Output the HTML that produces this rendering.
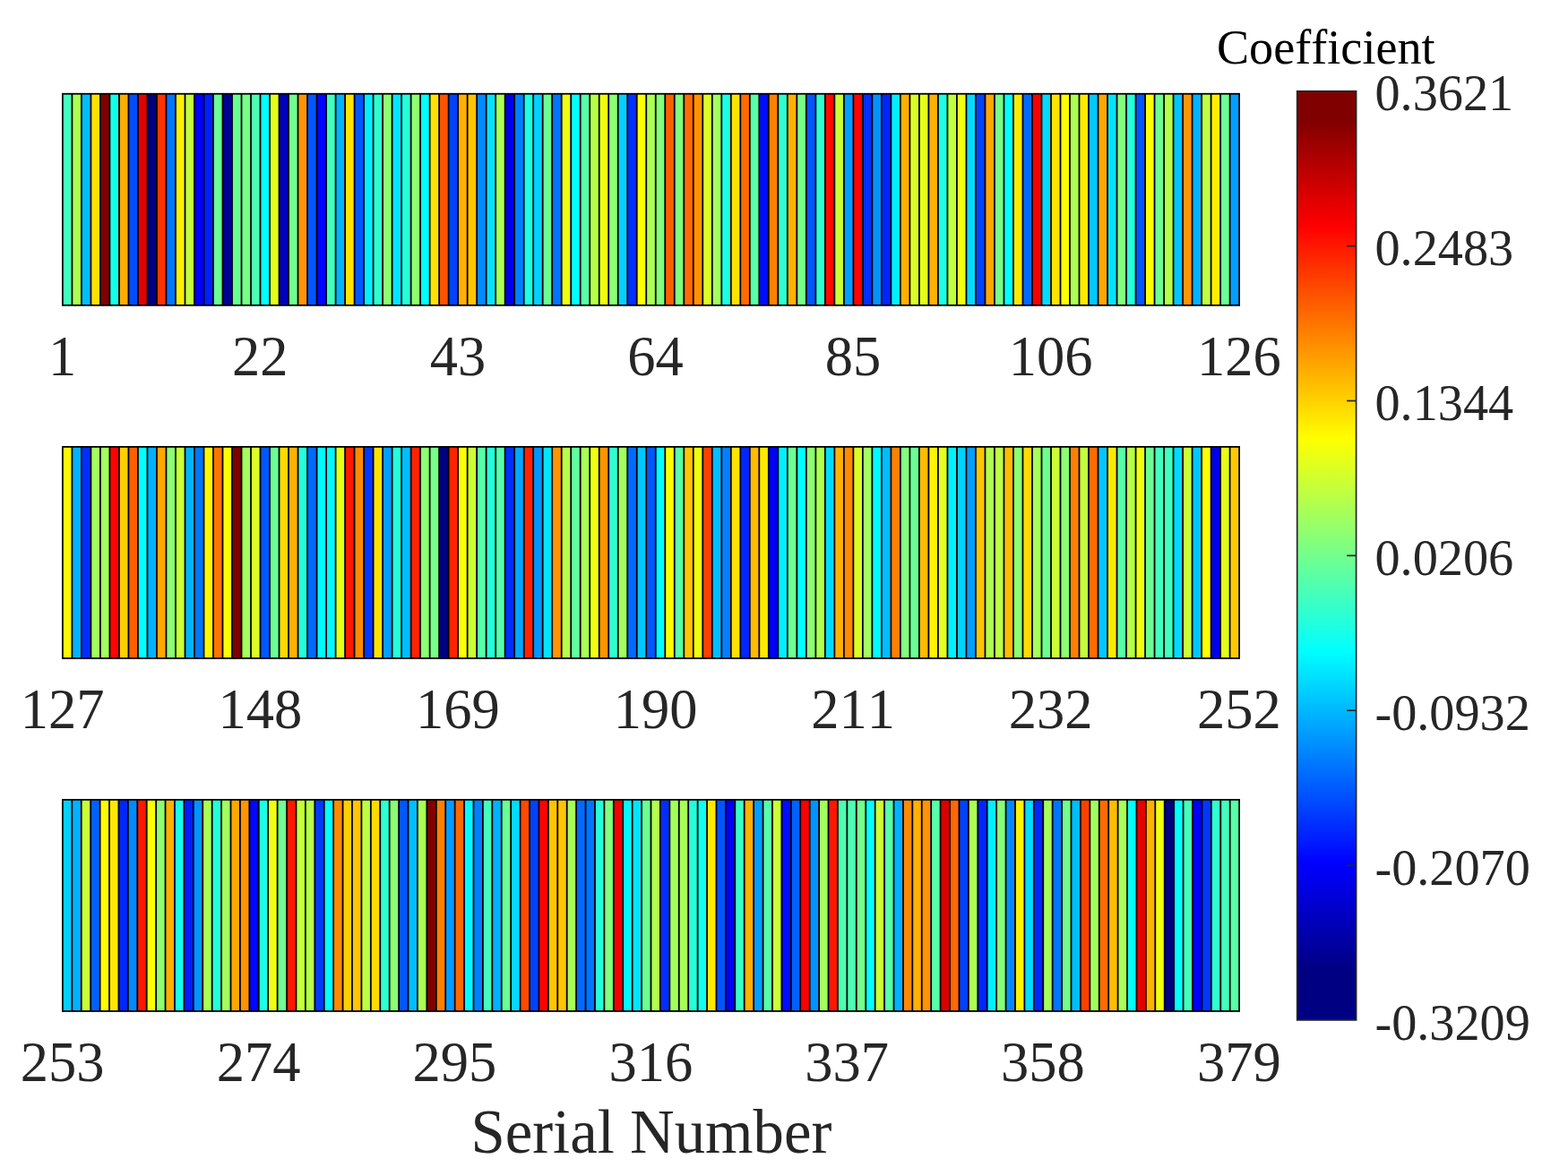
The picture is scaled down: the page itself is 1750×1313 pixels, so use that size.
<!DOCTYPE html>
<html lang="en">
<head>
<meta charset="utf-8">
<title>Coefficient by Serial Number</title>
<style>
html,body{margin:0;padding:0;background:#fff;}
body{width:1750px;height:1313px;overflow:hidden;}
svg{display:block;}
text{font-family:"Liberation Serif",serif;font-variant-ligatures:none;font-kerning:none;}
.xt{font-size:62.5px;fill:#262626;text-anchor:middle;}
.ct{font-size:56.25px;fill:#262626;text-anchor:start;}
.xl{font-size:68.75px;fill:#262626;text-anchor:middle;}
.ti{font-size:54.17px;fill:#000000;text-anchor:start;}
</style>
</head>
<body>
<svg width="1750" height="1313" viewBox="0 0 1750 1313">
<defs><linearGradient id="jet" gradientUnits="userSpaceOnUse" x1="0" y1="1082.5" x2="0" y2="134.5"><stop offset="0" stop-color="#000083"/><stop offset="0.125" stop-color="#0000ff"/><stop offset="0.375" stop-color="#00ffff"/><stop offset="0.625" stop-color="#ffff00"/><stop offset="0.875" stop-color="#ff0000"/><stop offset="1" stop-color="#800000"/></linearGradient></defs>
<rect x="0" y="0" width="1750" height="1313" fill="#ffffff"/>
<g id="strip1">
<rect x="69.00" y="103.85" width="1315.00" height="237.90" fill="#000"/>
<rect x="70.80" y="105.65" width="8.71" height="234.30" fill="#42ffbd"/>
<rect x="81.31" y="105.65" width="8.71" height="234.30" fill="#adff52"/>
<rect x="91.81" y="105.65" width="8.71" height="234.30" fill="#00bdff"/>
<rect x="102.32" y="105.65" width="8.71" height="234.30" fill="#ffe000"/>
<rect x="112.82" y="105.65" width="8.71" height="234.30" fill="#800000"/>
<rect x="123.33" y="105.65" width="8.71" height="234.30" fill="#14ffeb"/>
<rect x="133.83" y="105.65" width="8.71" height="234.30" fill="#ffad00"/>
<rect x="144.34" y="105.65" width="8.71" height="234.30" fill="#004dff"/>
<rect x="154.84" y="105.65" width="8.71" height="234.30" fill="#e50000"/>
<rect x="165.35" y="105.65" width="8.71" height="234.30" fill="#000080"/>
<rect x="175.86" y="105.65" width="8.71" height="234.30" fill="#ff3300"/>
<rect x="186.36" y="105.65" width="8.71" height="234.30" fill="#0075ff"/>
<rect x="196.87" y="105.65" width="8.71" height="234.30" fill="#fff000"/>
<rect x="207.37" y="105.65" width="8.71" height="234.30" fill="#c2ff3d"/>
<rect x="217.88" y="105.65" width="8.71" height="234.30" fill="#0000ff"/>
<rect x="228.38" y="105.65" width="8.71" height="234.30" fill="#001fff"/>
<rect x="238.89" y="105.65" width="8.71" height="234.30" fill="#6aff95"/>
<rect x="249.40" y="105.65" width="8.71" height="234.30" fill="#000094"/>
<rect x="259.90" y="105.65" width="8.71" height="234.30" fill="#6aff95"/>
<rect x="270.41" y="105.65" width="8.71" height="234.30" fill="#77ff88"/>
<rect x="280.91" y="105.65" width="8.71" height="234.30" fill="#4dffb2"/>
<rect x="291.42" y="105.65" width="8.71" height="234.30" fill="#00ffff"/>
<rect x="301.92" y="105.65" width="8.71" height="234.30" fill="#e5ff1a"/>
<rect x="312.43" y="105.65" width="8.71" height="234.30" fill="#0000bd"/>
<rect x="322.93" y="105.65" width="8.71" height="234.30" fill="#70ff8f"/>
<rect x="333.44" y="105.65" width="8.71" height="234.30" fill="#ff9400"/>
<rect x="343.95" y="105.65" width="8.71" height="234.30" fill="#0057ff"/>
<rect x="354.45" y="105.65" width="8.71" height="234.30" fill="#0005ff"/>
<rect x="364.96" y="105.65" width="8.71" height="234.30" fill="#42ffbd"/>
<rect x="375.46" y="105.65" width="8.71" height="234.30" fill="#00b2ff"/>
<rect x="385.97" y="105.65" width="8.71" height="234.30" fill="#ffe300"/>
<rect x="396.47" y="105.65" width="8.71" height="234.30" fill="#0057ff"/>
<rect x="406.98" y="105.65" width="8.71" height="234.30" fill="#00f0ff"/>
<rect x="417.48" y="105.65" width="8.71" height="234.30" fill="#2effd1"/>
<rect x="427.99" y="105.65" width="8.71" height="234.30" fill="#8fff70"/>
<rect x="438.50" y="105.65" width="8.71" height="234.30" fill="#00e5ff"/>
<rect x="449.00" y="105.65" width="8.71" height="234.30" fill="#24ffdb"/>
<rect x="459.51" y="105.65" width="8.71" height="234.30" fill="#8fff70"/>
<rect x="470.01" y="105.65" width="8.71" height="234.30" fill="#00ffff"/>
<rect x="480.52" y="105.65" width="8.71" height="234.30" fill="#ffe300"/>
<rect x="491.02" y="105.65" width="8.71" height="234.30" fill="#ff5200"/>
<rect x="501.53" y="105.65" width="8.71" height="234.30" fill="#0042ff"/>
<rect x="512.04" y="105.65" width="8.71" height="234.30" fill="#ffb000"/>
<rect x="522.54" y="105.65" width="8.71" height="234.30" fill="#ffc500"/>
<rect x="533.05" y="105.65" width="8.71" height="234.30" fill="#008aff"/>
<rect x="543.55" y="105.65" width="8.71" height="234.30" fill="#00e5ff"/>
<rect x="554.06" y="105.65" width="8.71" height="234.30" fill="#acff53"/>
<rect x="564.56" y="105.65" width="8.71" height="234.30" fill="#0000e8"/>
<rect x="575.07" y="105.65" width="8.71" height="234.30" fill="#0080ff"/>
<rect x="585.57" y="105.65" width="8.71" height="234.30" fill="#1affe5"/>
<rect x="596.08" y="105.65" width="8.71" height="234.30" fill="#00d1ff"/>
<rect x="606.59" y="105.65" width="8.71" height="234.30" fill="#6aff95"/>
<rect x="617.09" y="105.65" width="8.71" height="234.30" fill="#0075ff"/>
<rect x="627.60" y="105.65" width="8.71" height="234.30" fill="#f0ff0f"/>
<rect x="638.10" y="105.65" width="8.71" height="234.30" fill="#00ffff"/>
<rect x="648.61" y="105.65" width="8.71" height="234.30" fill="#56ffa9"/>
<rect x="659.11" y="105.65" width="8.71" height="234.30" fill="#b7ff48"/>
<rect x="669.62" y="105.65" width="8.71" height="234.30" fill="#f0ff0f"/>
<rect x="680.12" y="105.65" width="8.71" height="234.30" fill="#8cff73"/>
<rect x="690.63" y="105.65" width="8.71" height="234.30" fill="#00d1ff"/>
<rect x="701.14" y="105.65" width="8.71" height="234.30" fill="#0030ff"/>
<rect x="711.64" y="105.65" width="8.71" height="234.30" fill="#faff05"/>
<rect x="722.15" y="105.65" width="8.71" height="234.30" fill="#acff53"/>
<rect x="732.65" y="105.65" width="8.71" height="234.30" fill="#82ff7d"/>
<rect x="743.16" y="105.65" width="8.71" height="234.30" fill="#ff5f00"/>
<rect x="753.66" y="105.65" width="8.71" height="234.30" fill="#82ff7d"/>
<rect x="764.17" y="105.65" width="8.71" height="234.30" fill="#ff6b00"/>
<rect x="774.68" y="105.65" width="8.71" height="234.30" fill="#ff9400"/>
<rect x="785.18" y="105.65" width="8.71" height="234.30" fill="#dbff24"/>
<rect x="795.69" y="105.65" width="8.71" height="234.30" fill="#a2ff5d"/>
<rect x="806.19" y="105.65" width="8.71" height="234.30" fill="#1affe5"/>
<rect x="816.70" y="105.65" width="8.71" height="234.30" fill="#ffe300"/>
<rect x="827.20" y="105.65" width="8.71" height="234.30" fill="#ff6b00"/>
<rect x="837.71" y="105.65" width="8.71" height="234.30" fill="#57ffa8"/>
<rect x="848.21" y="105.65" width="8.71" height="234.30" fill="#000cff"/>
<rect x="858.72" y="105.65" width="8.71" height="234.30" fill="#ff8000"/>
<rect x="869.23" y="105.65" width="8.71" height="234.30" fill="#2effd1"/>
<rect x="879.73" y="105.65" width="8.71" height="234.30" fill="#ffb000"/>
<rect x="890.24" y="105.65" width="8.71" height="234.30" fill="#77ff88"/>
<rect x="900.74" y="105.65" width="8.71" height="234.30" fill="#0057ff"/>
<rect x="911.25" y="105.65" width="8.71" height="234.30" fill="#2effd1"/>
<rect x="921.75" y="105.65" width="8.71" height="234.30" fill="#ff0800"/>
<rect x="932.26" y="105.65" width="8.71" height="234.30" fill="#cbff34"/>
<rect x="942.76" y="105.65" width="8.71" height="234.30" fill="#009eff"/>
<rect x="953.27" y="105.65" width="8.71" height="234.30" fill="#ff0300"/>
<rect x="963.78" y="105.65" width="8.71" height="234.30" fill="#0030ff"/>
<rect x="974.28" y="105.65" width="8.71" height="234.30" fill="#0094ff"/>
<rect x="984.79" y="105.65" width="8.71" height="234.30" fill="#0026ff"/>
<rect x="995.29" y="105.65" width="8.71" height="234.30" fill="#00f0ff"/>
<rect x="1005.80" y="105.65" width="8.71" height="234.30" fill="#ffb000"/>
<rect x="1016.30" y="105.65" width="8.71" height="234.30" fill="#dbff24"/>
<rect x="1026.81" y="105.65" width="8.71" height="234.30" fill="#e5ff1a"/>
<rect x="1037.32" y="105.65" width="8.71" height="234.30" fill="#ffb000"/>
<rect x="1047.82" y="105.65" width="8.71" height="234.30" fill="#1affe5"/>
<rect x="1058.33" y="105.65" width="8.71" height="234.30" fill="#c1ff3e"/>
<rect x="1068.83" y="105.65" width="8.71" height="234.30" fill="#f0ff0f"/>
<rect x="1079.34" y="105.65" width="8.71" height="234.30" fill="#00dbff"/>
<rect x="1089.84" y="105.65" width="8.71" height="234.30" fill="#0042ff"/>
<rect x="1100.35" y="105.65" width="8.71" height="234.30" fill="#ffa600"/>
<rect x="1110.85" y="105.65" width="8.71" height="234.30" fill="#77ff88"/>
<rect x="1121.36" y="105.65" width="8.71" height="234.30" fill="#00ffff"/>
<rect x="1131.87" y="105.65" width="8.71" height="234.30" fill="#ffe900"/>
<rect x="1142.37" y="105.65" width="8.71" height="234.30" fill="#006bff"/>
<rect x="1152.88" y="105.65" width="8.71" height="234.30" fill="#f80000"/>
<rect x="1163.38" y="105.65" width="8.71" height="234.30" fill="#00dbff"/>
<rect x="1173.89" y="105.65" width="8.71" height="234.30" fill="#ffe300"/>
<rect x="1184.39" y="105.65" width="8.71" height="234.30" fill="#fcff03"/>
<rect x="1194.90" y="105.65" width="8.71" height="234.30" fill="#acff53"/>
<rect x="1205.40" y="105.65" width="8.71" height="234.30" fill="#ffe900"/>
<rect x="1215.91" y="105.65" width="8.71" height="234.30" fill="#00c7ff"/>
<rect x="1226.42" y="105.65" width="8.71" height="234.30" fill="#ffa600"/>
<rect x="1236.92" y="105.65" width="8.71" height="234.30" fill="#00e5ff"/>
<rect x="1247.43" y="105.65" width="8.71" height="234.30" fill="#82ff7d"/>
<rect x="1257.93" y="105.65" width="8.71" height="234.30" fill="#24ffdb"/>
<rect x="1268.44" y="105.65" width="8.71" height="234.30" fill="#0057ff"/>
<rect x="1278.94" y="105.65" width="8.71" height="234.30" fill="#fcff03"/>
<rect x="1289.45" y="105.65" width="8.71" height="234.30" fill="#6dff92"/>
<rect x="1299.96" y="105.65" width="8.71" height="234.30" fill="#b7ff48"/>
<rect x="1310.46" y="105.65" width="8.71" height="234.30" fill="#00c7ff"/>
<rect x="1320.97" y="105.65" width="8.71" height="234.30" fill="#ff9400"/>
<rect x="1331.47" y="105.65" width="8.71" height="234.30" fill="#00b2ff"/>
<rect x="1341.98" y="105.65" width="8.71" height="234.30" fill="#c1ff3e"/>
<rect x="1352.48" y="105.65" width="8.71" height="234.30" fill="#ffee00"/>
<rect x="1362.99" y="105.65" width="8.71" height="234.30" fill="#6aff95"/>
<rect x="1373.49" y="105.65" width="8.71" height="234.30" fill="#009eff"/>
</g>
<text class="xt" x="69.65" y="418.80">1</text>
<text class="xt" x="290.27" y="418.80">22</text>
<text class="xt" x="510.89" y="418.80">43</text>
<text class="xt" x="731.50" y="418.80">64</text>
<text class="xt" x="952.12" y="418.80">85</text>
<text class="xt" x="1172.74" y="418.80">106</text>
<text class="xt" x="1382.85" y="418.80">126</text>
<g id="strip2">
<rect x="69.00" y="498.00" width="1315.00" height="237.90" fill="#000"/>
<rect x="70.80" y="499.80" width="8.71" height="234.30" fill="#fff800"/>
<rect x="81.31" y="499.80" width="8.71" height="234.30" fill="#00b2ff"/>
<rect x="91.81" y="499.80" width="8.71" height="234.30" fill="#002eff"/>
<rect x="102.32" y="499.80" width="8.71" height="234.30" fill="#a2ff5d"/>
<rect x="112.82" y="499.80" width="8.71" height="234.30" fill="#a2ff5d"/>
<rect x="123.33" y="499.80" width="8.71" height="234.30" fill="#ff0300"/>
<rect x="133.83" y="499.80" width="8.71" height="234.30" fill="#ffcf00"/>
<rect x="144.34" y="499.80" width="8.71" height="234.30" fill="#ff5f00"/>
<rect x="154.84" y="499.80" width="8.71" height="234.30" fill="#00ffff"/>
<rect x="165.35" y="499.80" width="8.71" height="234.30" fill="#00b2ff"/>
<rect x="175.86" y="499.80" width="8.71" height="234.30" fill="#ffa600"/>
<rect x="186.36" y="499.80" width="8.71" height="234.30" fill="#8cff73"/>
<rect x="196.87" y="499.80" width="8.71" height="234.30" fill="#cbff34"/>
<rect x="207.37" y="499.80" width="8.71" height="234.30" fill="#00b2ff"/>
<rect x="217.88" y="499.80" width="8.71" height="234.30" fill="#0075ff"/>
<rect x="228.38" y="499.80" width="8.71" height="234.30" fill="#fff800"/>
<rect x="238.89" y="499.80" width="8.71" height="234.30" fill="#ff7500"/>
<rect x="249.40" y="499.80" width="8.71" height="234.30" fill="#fcff03"/>
<rect x="259.90" y="499.80" width="8.71" height="234.30" fill="#800000"/>
<rect x="270.41" y="499.80" width="8.71" height="234.30" fill="#a2ff5d"/>
<rect x="280.91" y="499.80" width="8.71" height="234.30" fill="#dbff24"/>
<rect x="291.42" y="499.80" width="8.71" height="234.30" fill="#0057ff"/>
<rect x="301.92" y="499.80" width="8.71" height="234.30" fill="#6aff95"/>
<rect x="312.43" y="499.80" width="8.71" height="234.30" fill="#ffd900"/>
<rect x="322.93" y="499.80" width="8.71" height="234.30" fill="#ffb000"/>
<rect x="333.44" y="499.80" width="8.71" height="234.30" fill="#24ffdb"/>
<rect x="343.95" y="499.80" width="8.71" height="234.30" fill="#006bff"/>
<rect x="354.45" y="499.80" width="8.71" height="234.30" fill="#00faff"/>
<rect x="364.96" y="499.80" width="8.71" height="234.30" fill="#00faff"/>
<rect x="375.46" y="499.80" width="8.71" height="234.30" fill="#e5ff1a"/>
<rect x="385.97" y="499.80" width="8.71" height="234.30" fill="#ff1700"/>
<rect x="396.47" y="499.80" width="8.71" height="234.30" fill="#ff8a00"/>
<rect x="406.98" y="499.80" width="8.71" height="234.30" fill="#0038ff"/>
<rect x="417.48" y="499.80" width="8.71" height="234.30" fill="#ffe300"/>
<rect x="427.99" y="499.80" width="8.71" height="234.30" fill="#009eff"/>
<rect x="438.50" y="499.80" width="8.71" height="234.30" fill="#24ffdb"/>
<rect x="449.00" y="499.80" width="8.71" height="234.30" fill="#00bdff"/>
<rect x="459.51" y="499.80" width="8.71" height="234.30" fill="#ff2200"/>
<rect x="470.01" y="499.80" width="8.71" height="234.30" fill="#8cff73"/>
<rect x="480.52" y="499.80" width="8.71" height="234.30" fill="#77ff88"/>
<rect x="491.02" y="499.80" width="8.71" height="234.30" fill="#000080"/>
<rect x="501.53" y="499.80" width="8.71" height="234.30" fill="#ff2200"/>
<rect x="512.04" y="499.80" width="8.71" height="234.30" fill="#fcff03"/>
<rect x="522.54" y="499.80" width="8.71" height="234.30" fill="#cbff34"/>
<rect x="533.05" y="499.80" width="8.71" height="234.30" fill="#57ffa8"/>
<rect x="543.55" y="499.80" width="8.71" height="234.30" fill="#24ffdb"/>
<rect x="554.06" y="499.80" width="8.71" height="234.30" fill="#57ffa8"/>
<rect x="564.56" y="499.80" width="8.71" height="234.30" fill="#002eff"/>
<rect x="575.07" y="499.80" width="8.71" height="234.30" fill="#00a8ff"/>
<rect x="585.57" y="499.80" width="8.71" height="234.30" fill="#ff2200"/>
<rect x="596.08" y="499.80" width="8.71" height="234.30" fill="#0094ff"/>
<rect x="606.59" y="499.80" width="8.71" height="234.30" fill="#00e5ff"/>
<rect x="617.09" y="499.80" width="8.71" height="234.30" fill="#ff9400"/>
<rect x="627.60" y="499.80" width="8.71" height="234.30" fill="#b7ff48"/>
<rect x="638.10" y="499.80" width="8.71" height="234.30" fill="#60ff9f"/>
<rect x="648.61" y="499.80" width="8.71" height="234.30" fill="#a7ff58"/>
<rect x="659.11" y="499.80" width="8.71" height="234.30" fill="#f0ff0f"/>
<rect x="669.62" y="499.80" width="8.71" height="234.30" fill="#ff9400"/>
<rect x="680.12" y="499.80" width="8.71" height="234.30" fill="#2effd1"/>
<rect x="690.63" y="499.80" width="8.71" height="234.30" fill="#a2ff5d"/>
<rect x="701.14" y="499.80" width="8.71" height="234.30" fill="#006bff"/>
<rect x="711.64" y="499.80" width="8.71" height="234.30" fill="#00c7ff"/>
<rect x="722.15" y="499.80" width="8.71" height="234.30" fill="#0057ff"/>
<rect x="732.65" y="499.80" width="8.71" height="234.30" fill="#00ffff"/>
<rect x="743.16" y="499.80" width="8.71" height="234.30" fill="#faff05"/>
<rect x="753.66" y="499.80" width="8.71" height="234.30" fill="#56ffa9"/>
<rect x="764.17" y="499.80" width="8.71" height="234.30" fill="#ffc500"/>
<rect x="774.68" y="499.80" width="8.71" height="234.30" fill="#f0ff0f"/>
<rect x="785.18" y="499.80" width="8.71" height="234.30" fill="#ff4000"/>
<rect x="795.69" y="499.80" width="8.71" height="234.30" fill="#00bdff"/>
<rect x="806.19" y="499.80" width="8.71" height="234.30" fill="#0080ff"/>
<rect x="816.70" y="499.80" width="8.71" height="234.30" fill="#ffe300"/>
<rect x="827.20" y="499.80" width="8.71" height="234.30" fill="#0026ff"/>
<rect x="837.71" y="499.80" width="8.71" height="234.30" fill="#ffbb00"/>
<rect x="848.21" y="499.80" width="8.71" height="234.30" fill="#ffe900"/>
<rect x="858.72" y="499.80" width="8.71" height="234.30" fill="#0000f2"/>
<rect x="869.23" y="499.80" width="8.71" height="234.30" fill="#00f0ff"/>
<rect x="879.73" y="499.80" width="8.71" height="234.30" fill="#6dff92"/>
<rect x="890.24" y="499.80" width="8.71" height="234.30" fill="#00ffff"/>
<rect x="900.74" y="499.80" width="8.71" height="234.30" fill="#8cff73"/>
<rect x="911.25" y="499.80" width="8.71" height="234.30" fill="#b1ff4e"/>
<rect x="921.75" y="499.80" width="8.71" height="234.30" fill="#00dbff"/>
<rect x="932.26" y="499.80" width="8.71" height="234.30" fill="#ffb000"/>
<rect x="942.76" y="499.80" width="8.71" height="234.30" fill="#ff8a00"/>
<rect x="953.27" y="499.80" width="8.71" height="234.30" fill="#dbff24"/>
<rect x="963.78" y="499.80" width="8.71" height="234.30" fill="#a2ff5d"/>
<rect x="974.28" y="499.80" width="8.71" height="234.30" fill="#00faff"/>
<rect x="984.79" y="499.80" width="8.71" height="234.30" fill="#00bdff"/>
<rect x="995.29" y="499.80" width="8.71" height="234.30" fill="#ff8000"/>
<rect x="1005.80" y="499.80" width="8.71" height="234.30" fill="#82ff7d"/>
<rect x="1016.30" y="499.80" width="8.71" height="234.30" fill="#6aff95"/>
<rect x="1026.81" y="499.80" width="8.71" height="234.30" fill="#ffbb00"/>
<rect x="1037.32" y="499.80" width="8.71" height="234.30" fill="#fff300"/>
<rect x="1047.82" y="499.80" width="8.71" height="234.30" fill="#e5ff1a"/>
<rect x="1058.33" y="499.80" width="8.71" height="234.30" fill="#00f0ff"/>
<rect x="1068.83" y="499.80" width="8.71" height="234.30" fill="#00d1ff"/>
<rect x="1079.34" y="499.80" width="8.71" height="234.30" fill="#009eff"/>
<rect x="1089.84" y="499.80" width="8.71" height="234.30" fill="#ffc500"/>
<rect x="1100.35" y="499.80" width="8.71" height="234.30" fill="#b1ff4e"/>
<rect x="1110.85" y="499.80" width="8.71" height="234.30" fill="#bcff43"/>
<rect x="1121.36" y="499.80" width="8.71" height="234.30" fill="#ffbb00"/>
<rect x="1131.87" y="499.80" width="8.71" height="234.30" fill="#8cff73"/>
<rect x="1142.37" y="499.80" width="8.71" height="234.30" fill="#ffd900"/>
<rect x="1152.88" y="499.80" width="8.71" height="234.30" fill="#a7ff58"/>
<rect x="1163.38" y="499.80" width="8.71" height="234.30" fill="#6fff90"/>
<rect x="1173.89" y="499.80" width="8.71" height="234.30" fill="#cbff34"/>
<rect x="1184.39" y="499.80" width="8.71" height="234.30" fill="#8cff73"/>
<rect x="1194.90" y="499.80" width="8.71" height="234.30" fill="#ff8000"/>
<rect x="1205.40" y="499.80" width="8.71" height="234.30" fill="#c1ff3e"/>
<rect x="1215.91" y="499.80" width="8.71" height="234.30" fill="#ff6b00"/>
<rect x="1226.42" y="499.80" width="8.71" height="234.30" fill="#00c7ff"/>
<rect x="1236.92" y="499.80" width="8.71" height="234.30" fill="#ffe900"/>
<rect x="1247.43" y="499.80" width="8.71" height="234.30" fill="#57ffa8"/>
<rect x="1257.93" y="499.80" width="8.71" height="234.30" fill="#b7ff48"/>
<rect x="1268.44" y="499.80" width="8.71" height="234.30" fill="#f0ff0f"/>
<rect x="1278.94" y="499.80" width="8.71" height="234.30" fill="#6aff95"/>
<rect x="1289.45" y="499.80" width="8.71" height="234.30" fill="#42ffbd"/>
<rect x="1299.96" y="499.80" width="8.71" height="234.30" fill="#42ffbd"/>
<rect x="1310.46" y="499.80" width="8.71" height="234.30" fill="#00dbff"/>
<rect x="1320.97" y="499.80" width="8.71" height="234.30" fill="#cbff34"/>
<rect x="1331.47" y="499.80" width="8.71" height="234.30" fill="#00c7ff"/>
<rect x="1341.98" y="499.80" width="8.71" height="234.30" fill="#ffff00"/>
<rect x="1352.48" y="499.80" width="8.71" height="234.30" fill="#0000e8"/>
<rect x="1362.99" y="499.80" width="8.71" height="234.30" fill="#e5ff1a"/>
<rect x="1373.49" y="499.80" width="8.71" height="234.30" fill="#ffca00"/>
</g>
<text class="xt" x="69.65" y="812.95">127</text>
<text class="xt" x="290.27" y="812.95">148</text>
<text class="xt" x="510.89" y="812.95">169</text>
<text class="xt" x="731.50" y="812.95">190</text>
<text class="xt" x="952.12" y="812.95">211</text>
<text class="xt" x="1172.74" y="812.95">232</text>
<text class="xt" x="1382.85" y="812.95">252</text>
<g id="strip3">
<rect x="69.00" y="892.00" width="1315.00" height="237.85" fill="#000"/>
<rect x="70.80" y="893.80" width="8.62" height="234.25" fill="#00d1ff"/>
<rect x="81.22" y="893.80" width="8.62" height="234.25" fill="#00b2ff"/>
<rect x="91.64" y="893.80" width="8.62" height="234.25" fill="#cbff34"/>
<rect x="102.07" y="893.80" width="8.62" height="234.25" fill="#0061ff"/>
<rect x="112.49" y="893.80" width="8.62" height="234.25" fill="#fcff03"/>
<rect x="122.91" y="893.80" width="8.62" height="234.25" fill="#ffe900"/>
<rect x="133.33" y="893.80" width="8.62" height="234.25" fill="#0026ff"/>
<rect x="143.76" y="893.80" width="8.62" height="234.25" fill="#008aff"/>
<rect x="154.18" y="893.80" width="8.62" height="234.25" fill="#ff1700"/>
<rect x="164.60" y="893.80" width="8.62" height="234.25" fill="#fcff03"/>
<rect x="175.02" y="893.80" width="8.62" height="234.25" fill="#8cff73"/>
<rect x="185.44" y="893.80" width="8.62" height="234.25" fill="#ffb000"/>
<rect x="195.87" y="893.80" width="8.62" height="234.25" fill="#17ffe8"/>
<rect x="206.29" y="893.80" width="8.62" height="234.25" fill="#001cff"/>
<rect x="216.71" y="893.80" width="8.62" height="234.25" fill="#0094ff"/>
<rect x="227.13" y="893.80" width="8.62" height="234.25" fill="#acff53"/>
<rect x="237.56" y="893.80" width="8.62" height="234.25" fill="#24ffdb"/>
<rect x="247.98" y="893.80" width="8.62" height="234.25" fill="#a2ff5d"/>
<rect x="258.40" y="893.80" width="8.62" height="234.25" fill="#ffa600"/>
<rect x="268.82" y="893.80" width="8.62" height="234.25" fill="#ff9400"/>
<rect x="279.24" y="893.80" width="8.62" height="234.25" fill="#0007ff"/>
<rect x="289.67" y="893.80" width="8.62" height="234.25" fill="#1affe5"/>
<rect x="300.09" y="893.80" width="8.62" height="234.25" fill="#f0ff0f"/>
<rect x="310.51" y="893.80" width="8.62" height="234.25" fill="#6dff92"/>
<rect x="320.93" y="893.80" width="8.62" height="234.25" fill="#ff1700"/>
<rect x="331.36" y="893.80" width="8.62" height="234.25" fill="#c6ff39"/>
<rect x="341.78" y="893.80" width="8.62" height="234.25" fill="#b7ff48"/>
<rect x="352.20" y="893.80" width="8.62" height="234.25" fill="#0038ff"/>
<rect x="362.62" y="893.80" width="8.62" height="234.25" fill="#00ffff"/>
<rect x="373.04" y="893.80" width="8.62" height="234.25" fill="#ff8a00"/>
<rect x="383.47" y="893.80" width="8.62" height="234.25" fill="#ffcf00"/>
<rect x="393.89" y="893.80" width="8.62" height="234.25" fill="#ffc500"/>
<rect x="404.31" y="893.80" width="8.62" height="234.25" fill="#bcff43"/>
<rect x="414.73" y="893.80" width="8.62" height="234.25" fill="#ffd900"/>
<rect x="425.16" y="893.80" width="8.62" height="234.25" fill="#2effd1"/>
<rect x="435.58" y="893.80" width="8.62" height="234.25" fill="#8cff73"/>
<rect x="446.00" y="893.80" width="8.62" height="234.25" fill="#0057ff"/>
<rect x="456.42" y="893.80" width="8.62" height="234.25" fill="#00bdff"/>
<rect x="466.84" y="893.80" width="8.62" height="234.25" fill="#acff53"/>
<rect x="477.27" y="893.80" width="8.62" height="234.25" fill="#800000"/>
<rect x="487.69" y="893.80" width="8.62" height="234.25" fill="#ff8000"/>
<rect x="498.11" y="893.80" width="8.62" height="234.25" fill="#009eff"/>
<rect x="508.53" y="893.80" width="8.62" height="234.25" fill="#ff6900"/>
<rect x="518.96" y="893.80" width="8.62" height="234.25" fill="#00faff"/>
<rect x="529.38" y="893.80" width="8.62" height="234.25" fill="#0080ff"/>
<rect x="539.80" y="893.80" width="8.62" height="234.25" fill="#42ffbd"/>
<rect x="550.22" y="893.80" width="8.62" height="234.25" fill="#00b2ff"/>
<rect x="560.64" y="893.80" width="8.62" height="234.25" fill="#6aff95"/>
<rect x="571.07" y="893.80" width="8.62" height="234.25" fill="#00dbff"/>
<rect x="581.49" y="893.80" width="8.62" height="234.25" fill="#ff4a00"/>
<rect x="591.91" y="893.80" width="8.62" height="234.25" fill="#0042ff"/>
<rect x="602.33" y="893.80" width="8.62" height="234.25" fill="#ff0300"/>
<rect x="612.76" y="893.80" width="8.62" height="234.25" fill="#ffc500"/>
<rect x="623.18" y="893.80" width="8.62" height="234.25" fill="#ffc500"/>
<rect x="633.60" y="893.80" width="8.62" height="234.25" fill="#a7ff58"/>
<rect x="644.02" y="893.80" width="8.62" height="234.25" fill="#006bff"/>
<rect x="654.44" y="893.80" width="8.62" height="234.25" fill="#0075ff"/>
<rect x="664.87" y="893.80" width="8.62" height="234.25" fill="#24ffdb"/>
<rect x="675.29" y="893.80" width="8.62" height="234.25" fill="#82ff7d"/>
<rect x="685.71" y="893.80" width="8.62" height="234.25" fill="#f80000"/>
<rect x="696.13" y="893.80" width="8.62" height="234.25" fill="#00faff"/>
<rect x="706.56" y="893.80" width="8.62" height="234.25" fill="#00e5ff"/>
<rect x="716.98" y="893.80" width="8.62" height="234.25" fill="#6dff92"/>
<rect x="727.40" y="893.80" width="8.62" height="234.25" fill="#b1ff4e"/>
<rect x="737.82" y="893.80" width="8.62" height="234.25" fill="#002eff"/>
<rect x="748.24" y="893.80" width="8.62" height="234.25" fill="#a2ff5d"/>
<rect x="758.67" y="893.80" width="8.62" height="234.25" fill="#a7ff58"/>
<rect x="769.09" y="893.80" width="8.62" height="234.25" fill="#24ffdb"/>
<rect x="779.51" y="893.80" width="8.62" height="234.25" fill="#12ffed"/>
<rect x="789.93" y="893.80" width="8.62" height="234.25" fill="#ffe900"/>
<rect x="800.36" y="893.80" width="8.62" height="234.25" fill="#0057ff"/>
<rect x="810.78" y="893.80" width="8.62" height="234.25" fill="#0000fc"/>
<rect x="821.20" y="893.80" width="8.62" height="234.25" fill="#38ffc7"/>
<rect x="831.62" y="893.80" width="8.62" height="234.25" fill="#ffb000"/>
<rect x="842.04" y="893.80" width="8.62" height="234.25" fill="#009eff"/>
<rect x="852.47" y="893.80" width="8.62" height="234.25" fill="#57ffa8"/>
<rect x="862.89" y="893.80" width="8.62" height="234.25" fill="#cbff34"/>
<rect x="873.31" y="893.80" width="8.62" height="234.25" fill="#000cff"/>
<rect x="883.73" y="893.80" width="8.62" height="234.25" fill="#0061ff"/>
<rect x="894.16" y="893.80" width="8.62" height="234.25" fill="#fd0000"/>
<rect x="904.58" y="893.80" width="8.62" height="234.25" fill="#0094ff"/>
<rect x="915.00" y="893.80" width="8.62" height="234.25" fill="#a2ff5d"/>
<rect x="925.42" y="893.80" width="8.62" height="234.25" fill="#ff1700"/>
<rect x="935.84" y="893.80" width="8.62" height="234.25" fill="#4dffb2"/>
<rect x="946.27" y="893.80" width="8.62" height="234.25" fill="#4dffb2"/>
<rect x="956.69" y="893.80" width="8.62" height="234.25" fill="#75ff8a"/>
<rect x="967.11" y="893.80" width="8.62" height="234.25" fill="#00ffff"/>
<rect x="977.53" y="893.80" width="8.62" height="234.25" fill="#cbff34"/>
<rect x="987.96" y="893.80" width="8.62" height="234.25" fill="#57ffa8"/>
<rect x="998.38" y="893.80" width="8.62" height="234.25" fill="#00b2ff"/>
<rect x="1008.80" y="893.80" width="8.62" height="234.25" fill="#ff8a00"/>
<rect x="1019.22" y="893.80" width="8.62" height="234.25" fill="#ffb000"/>
<rect x="1029.64" y="893.80" width="8.62" height="234.25" fill="#ff9400"/>
<rect x="1040.07" y="893.80" width="8.62" height="234.25" fill="#56ffa9"/>
<rect x="1050.49" y="893.80" width="8.62" height="234.25" fill="#d90000"/>
<rect x="1060.91" y="893.80" width="8.62" height="234.25" fill="#ff6900"/>
<rect x="1071.33" y="893.80" width="8.62" height="234.25" fill="#0042ff"/>
<rect x="1081.76" y="893.80" width="8.62" height="234.25" fill="#acff53"/>
<rect x="1092.18" y="893.80" width="8.62" height="234.25" fill="#0026ff"/>
<rect x="1102.60" y="893.80" width="8.62" height="234.25" fill="#00f0ff"/>
<rect x="1113.02" y="893.80" width="8.62" height="234.25" fill="#85ff7a"/>
<rect x="1123.44" y="893.80" width="8.62" height="234.25" fill="#008aff"/>
<rect x="1133.87" y="893.80" width="8.62" height="234.25" fill="#fff300"/>
<rect x="1144.29" y="893.80" width="8.62" height="234.25" fill="#00dbff"/>
<rect x="1154.71" y="893.80" width="8.62" height="234.25" fill="#0026ff"/>
<rect x="1165.13" y="893.80" width="8.62" height="234.25" fill="#a7ff58"/>
<rect x="1175.56" y="893.80" width="8.62" height="234.25" fill="#0075ff"/>
<rect x="1185.98" y="893.80" width="8.62" height="234.25" fill="#72ff8d"/>
<rect x="1196.40" y="893.80" width="8.62" height="234.25" fill="#00bdff"/>
<rect x="1206.82" y="893.80" width="8.62" height="234.25" fill="#ff4000"/>
<rect x="1217.24" y="893.80" width="8.62" height="234.25" fill="#a2ff5d"/>
<rect x="1227.67" y="893.80" width="8.62" height="234.25" fill="#ff6b00"/>
<rect x="1238.09" y="893.80" width="8.62" height="234.25" fill="#ffbb00"/>
<rect x="1248.51" y="893.80" width="8.62" height="234.25" fill="#a7ff58"/>
<rect x="1258.93" y="893.80" width="8.62" height="234.25" fill="#00ffff"/>
<rect x="1269.36" y="893.80" width="8.62" height="234.25" fill="#e30000"/>
<rect x="1279.78" y="893.80" width="8.62" height="234.25" fill="#ffb000"/>
<rect x="1290.20" y="893.80" width="8.62" height="234.25" fill="#f0ff0f"/>
<rect x="1300.62" y="893.80" width="8.62" height="234.25" fill="#000080"/>
<rect x="1311.04" y="893.80" width="8.62" height="234.25" fill="#00ffff"/>
<rect x="1321.47" y="893.80" width="8.62" height="234.25" fill="#47ffb8"/>
<rect x="1331.89" y="893.80" width="8.62" height="234.25" fill="#0000fc"/>
<rect x="1342.31" y="893.80" width="8.62" height="234.25" fill="#0038ff"/>
<rect x="1352.73" y="893.80" width="8.62" height="234.25" fill="#2effd1"/>
<rect x="1363.16" y="893.80" width="8.62" height="234.25" fill="#42ffbd"/>
<rect x="1373.58" y="893.80" width="8.62" height="234.25" fill="#57ffa8"/>
</g>
<text class="xt" x="69.65" y="1207.00">253</text>
<text class="xt" x="288.52" y="1207.00">274</text>
<text class="xt" x="507.38" y="1207.00">295</text>
<text class="xt" x="726.25" y="1207.00">316</text>
<text class="xt" x="945.12" y="1207.00">337</text>
<text class="xt" x="1163.98" y="1207.00">358</text>
<text class="xt" x="1382.85" y="1207.00">379</text>
<rect x="1447.70" y="101.80" width="65.90" height="1037.10" fill="url(#jet)" stroke="#262626" stroke-width="1.7"/>
<text class="ct" x="1534.45" y="123.40">0.3621</text>
<line x1="1503.10" y1="274.65" x2="1513.60" y2="274.65" stroke="#262626" stroke-width="1.7"/>
<text class="ct" x="1534.45" y="296.25">0.2483</text>
<line x1="1503.10" y1="447.50" x2="1513.60" y2="447.50" stroke="#262626" stroke-width="1.7"/>
<text class="ct" x="1534.45" y="469.10">0.1344</text>
<line x1="1503.10" y1="620.35" x2="1513.60" y2="620.35" stroke="#262626" stroke-width="1.7"/>
<text class="ct" x="1534.45" y="641.95">0.0206</text>
<line x1="1503.10" y1="793.20" x2="1513.60" y2="793.20" stroke="#262626" stroke-width="1.7"/>
<text class="ct" x="1534.45" y="814.80">-0.0932</text>
<line x1="1503.10" y1="966.05" x2="1513.60" y2="966.05" stroke="#262626" stroke-width="1.7"/>
<text class="ct" x="1534.45" y="987.65">-0.2070</text>
<text class="ct" x="1534.45" y="1160.50">-0.3209</text>
<text class="ti" x="1358.00" y="71.00">Coefficient</text>
<text class="xl" x="726.90" y="1286.80">Serial Number</text>
</svg>
</body>
</html>
